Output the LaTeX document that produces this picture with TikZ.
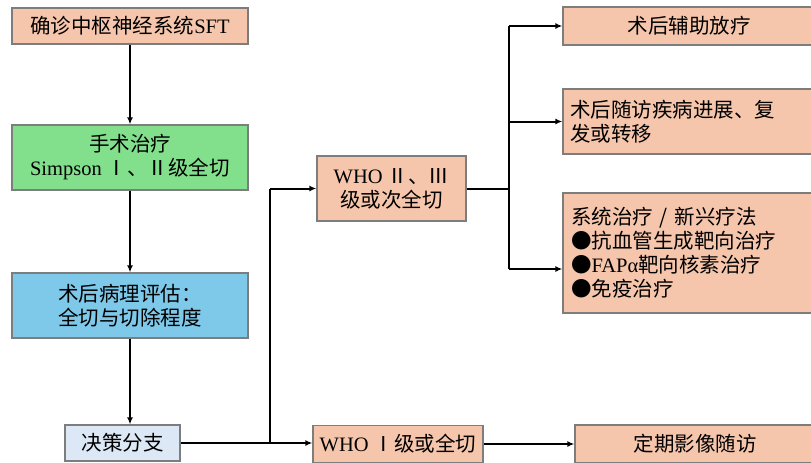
\documentclass[tikz,border=0pt]{standalone}
\usepackage{fontspec}
\setmainfont{Liberation Serif}
\newfontfamily\cjk{Noto Sans CJK SC}
\newfontfamily\lat{Liberation Serif}
\usetikzlibrary{arrows.meta,shadows}
\definecolor{salmon}{RGB}{246,198,172}
\definecolor{gbox}{RGB}{130,224,140}
\definecolor{bbox}{RGB}{126,200,234}
\definecolor{lbbox}{RGB}{220,232,245}
\definecolor{bord}{RGB}{125,125,125}
\begin{document}
\begin{tikzpicture}[x=1pt,y=-1pt,
  box/.style={draw=bord,line width=1.3pt,inner sep=3pt,align=center,
    font=\cjk\fontsize{20.5}{24}\selectfont,
    drop shadow={shadow xshift=1pt,shadow yshift=-1pt,opacity=0.25}},
  arr/.style={line width=2pt,-{Latex[length=7pt,width=6pt]}},
  ln/.style={line width=2pt}]
\useasboundingbox (0,0) rectangle (811,463);
\clip (0,0) rectangle (811,463);
\node[box,fill=salmon,minimum width=236pt,minimum height=36pt] (n1) at (130,26) {确诊中枢神经系统{\lat SFT}};
\node[box,fill=gbox,minimum width=236pt,minimum height=65pt] (n2) at (130,157.5) {手术治疗\\{\lat Simpson }Ⅰ、Ⅱ级全切};
\node[box,fill=bbox,minimum width=236pt,minimum height=65pt] (n3) at (130,305.5) {术后病理评估：\\全切与切除程度};
\node[box,fill=lbbox,minimum width=115pt,minimum height=36pt] (n4) at (122.5,443) {决策分支};
\node[box,fill=salmon,minimum width=149pt,minimum height=65pt] (n5) at (391.5,188.5) {{\lat WHO }Ⅱ、Ⅲ\\级或次全切};
\node[box,fill=salmon,minimum width=170pt,minimum height=37pt] (n6) at (398,444) {{\lat WHO }Ⅰ级或全切};
\node[box,fill=salmon,minimum width=252pt,minimum height=38pt] (r1) at (689,26) {术后辅助放疗};
\node[box,fill=salmon,minimum width=252pt,minimum height=65pt,text width=238pt,align=left] (r2) at (689,121.5) {术后随访疾病进展、复\\发或转移};
\node[box,fill=salmon,minimum width=252pt,minimum height=120pt,text width=236pt,align=left] (r3) at (689,253) {系统治疗 / 新兴疗法\\●抗血管生成靶向治疗\\●{\lat FAPα}靶向核素治疗\\●免疫治疗};
\node[box,fill=salmon,minimum width=240pt,minimum height=38pt] (r4) at (695,444) {定期影像随访};
\coordinate (j1) at (270,443);
\coordinate (j2) at (509,188.5);
\coordinate (a3) at ([yshift=-16pt]r3.west);
\draw[arr] (n1.south) -- (n2.north);
\draw[arr] (n2.south) -- (n3.north);
\draw[arr] (n3.south) -- (n3.south |- n4.north);
\draw[ln] (n4.east |- j1) -- (j1);
\draw[ln] (j1) -- (j1 |- n5.west);
\draw[arr] (j1 |- n5.west) -- (n5.west);
\draw[arr] (j1) -- (n6.west |- j1);
\draw[ln] (n5.east) -- (j2);
\draw[ln] (j2 |- r1.west) -- (j2 |- a3);
\draw[arr] (j2 |- r1.west) -- (r1.west);
\draw[arr] (j2 |- r2.west) -- (r2.west);
\draw[arr] (j2 |- a3) -- (a3);
\draw[arr] (n6.east) -- (r4.west);
\end{tikzpicture}
\end{document}
